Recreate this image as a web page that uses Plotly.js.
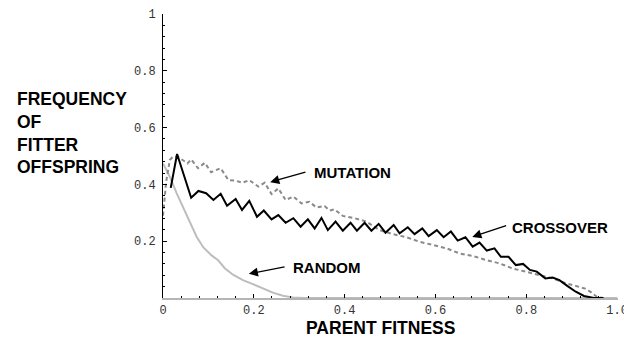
<!DOCTYPE html>
<html>
<head>
<meta charset="utf-8">
<script src="https://cdn.plot.ly/plotly-3.0.1.min.js"></script>
<style>html,body{margin:0;padding:0;background:#fff;}#chart{width:624px;height:337px;}</style>
</head>
<body>
<div id="chart"></div>
<script>
// ---- data ----
var crossoverX = [0.017,0.031,0.062,0.078,0.095,0.111,0.127,0.141,0.160,0.174,0.190,0.207,0.222,0.239,0.254,0.270,0.287,0.303,0.319,0.334,0.349,0.363,0.380,0.396,0.413,0.427,0.444,0.459,0.475,0.490,0.508,0.521,0.539,0.554,0.571,0.585,0.603,0.618,0.634,0.649,0.666,0.682,0.697,0.713,0.730,0.744,0.761,0.777,0.793,0.808,0.823,0.842,0.858,0.873,0.891,0.909,0.927,0.949,0.970];
var crossoverY = [0.388,0.507,0.353,0.377,0.369,0.345,0.367,0.325,0.349,0.310,0.342,0.286,0.308,0.277,0.292,0.265,0.281,0.251,0.277,0.245,0.282,0.239,0.269,0.237,0.265,0.237,0.265,0.237,0.261,0.230,0.257,0.228,0.249,0.225,0.245,0.218,0.239,0.214,0.234,0.202,0.214,0.181,0.195,0.167,0.175,0.145,0.145,0.116,0.120,0.099,0.093,0.069,0.072,0.063,0.042,0.022,0.007,0.000,0.000];

var mutationX = [0.000,0.007,0.015,0.022,0.034,0.044,0.054,0.062,0.077,0.092,0.106,0.127,0.144,0.160,0.175,0.190,0.210,0.224,0.239,0.254,0.270,0.287,0.305,0.322,0.338,0.356,0.367,0.378,0.396,0.422,0.448,0.477,0.506,0.536,0.565,0.594,0.624,0.653,0.682,0.711,0.741,0.770,0.799,0.829,0.858,0.887,0.910,0.930,0.943,0.956,0.970];
var mutationY = [0.290,0.410,0.486,0.498,0.496,0.486,0.474,0.488,0.457,0.476,0.443,0.457,0.415,0.413,0.406,0.415,0.392,0.406,0.366,0.386,0.345,0.357,0.333,0.339,0.319,0.324,0.308,0.312,0.289,0.281,0.269,0.239,0.225,0.214,0.198,0.187,0.175,0.157,0.148,0.134,0.122,0.104,0.093,0.081,0.069,0.052,0.042,0.033,0.020,0.003,0.000];

var randomX = [0.000,0.015,0.030,0.045,0.059,0.074,0.089,0.107,0.122,0.136,0.155,0.176,0.198,0.220,0.242,0.264,0.286,0.310,1.000];
var randomY = [0.474,0.427,0.369,0.316,0.263,0.216,0.178,0.150,0.132,0.105,0.081,0.063,0.049,0.034,0.019,0.008,0.002,0.000,0.000];

var xTickVals = [0, 0.2, 0.4, 0.6, 0.8, 1.0];
var xTickText = ['0', '0.2', '0.4', '0.6', '0.8', '1.0'];
var yTickVals = [0.2, 0.4, 0.6, 0.8, 1.0];
var yTickText = ['0.2', '0.4', '0.6', '0.8', '1'];

var labels = ['MUTATION', 'CROSSOVER', 'RANDOM'];

// ---- chart ----
var traces = [
  {x: randomX, y: randomY, mode: 'lines', line: {color: '#bdbdbd', width: 2}, hoverinfo: 'skip'},
  {x: mutationX, y: mutationY, mode: 'lines', line: {color: '#8a8a8a', width: 2, dash: '4px,3px'}, hoverinfo: 'skip'},
  {x: crossoverX, y: crossoverY, mode: 'lines', line: {color: '#000000', width: 2}, hoverinfo: 'skip'}
];

var tickFont = {family: 'Liberation Mono, Courier New, monospace', size: 12, color: '#333'};
var boldFont = {family: 'Liberation Sans, Arial, sans-serif', size: 15, color: '#000'};

function arrow(tx, ty, fx, fy) {
  return {x: tx, y: ty, ax: fx, ay: fy, xref: 'x', yref: 'y', axref: 'x', ayref: 'y',
          text: '', showarrow: true, arrowhead: 2, arrowsize: 1.4, arrowwidth: 1.3, arrowcolor: '#000'};
}
function label(txt, x, y) {
  return {x: x, y: y, xref: 'x', yref: 'y', text: '<b>' + txt + '</b>', showarrow: false,
          xanchor: 'left', yanchor: 'middle', font: boldFont};
}

var layout = {
  width: 624, height: 337,
  margin: {l: 163, r: 6, t: 14, b: 39},
  paper_bgcolor: '#fff', plot_bgcolor: '#fff',
  showlegend: false,
  xaxis: {
    range: [0, 1.002], showgrid: false, zeroline: false,
    showline: true, linecolor: '#b5b5b5', linewidth: 2,
    ticks: 'inside', ticklen: 4, tickwidth: 1, tickcolor: '#000',
    tickmode: 'array', tickvals: xTickVals, ticktext: xTickText,
    tickfont: tickFont, ticklabelstandoff: 0, ticklabeloverflow: 'allow',
    minor: {tickmode: 'linear', tick0: 0, dtick: 0.04, ticks: 'inside', ticklen: 2, tickwidth: 1, tickcolor: '#000', showgrid: false}
  },
  yaxis: {
    range: [0, 1], showgrid: false, zeroline: false,
    showline: true, linecolor: '#000', linewidth: 1,
    ticks: 'inside', ticklen: 4, tickwidth: 1, tickcolor: '#000',
    tickmode: 'array', tickvals: yTickVals, ticktext: yTickText,
    tickfont: tickFont, ticklabelstandoff: 4,
    minor: {tickmode: 'linear', tick0: 0, dtick: 0.04, ticks: 'inside', ticklen: 2, tickwidth: 1, tickcolor: '#000', showgrid: false}
  },
  annotations: [
    arrow(0.236, 0.408, 0.317, 0.445),
    label(labels[0], 0.328, 0.442),
    arrow(0.681, 0.215, 0.759, 0.257),
    label(labels[1], 0.765, 0.248),
    arrow(0.189, 0.085, 0.271, 0.111),
    label(labels[2], 0.281, 0.106),
    {xref: 'paper', yref: 'paper', x: 0.478, y: -0.104, xanchor: 'center', yanchor: 'middle',
     text: '<b>PARENT FITNESS</b>', showarrow: false, borderpad: 0,
     font: {family: 'Liberation Sans, Arial, sans-serif', size: 17.5, color: '#000'}},
    {xref: 'paper', yref: 'paper', x: (15 - 163) / 454, y: 0.582, xanchor: 'left', yanchor: 'middle', align: 'left',
     text: '<b>FREQUENCY<br>OF<br>FITTER<br>OFFSPRING</b>', showarrow: false,
     font: {family: 'Liberation Sans, Arial, sans-serif', size: 17.5, color: '#000'}}
  ]
};

Plotly.newPlot('chart', traces, layout, {staticPlot: true, displayModeBar: false});
</script>
</body>
</html>
